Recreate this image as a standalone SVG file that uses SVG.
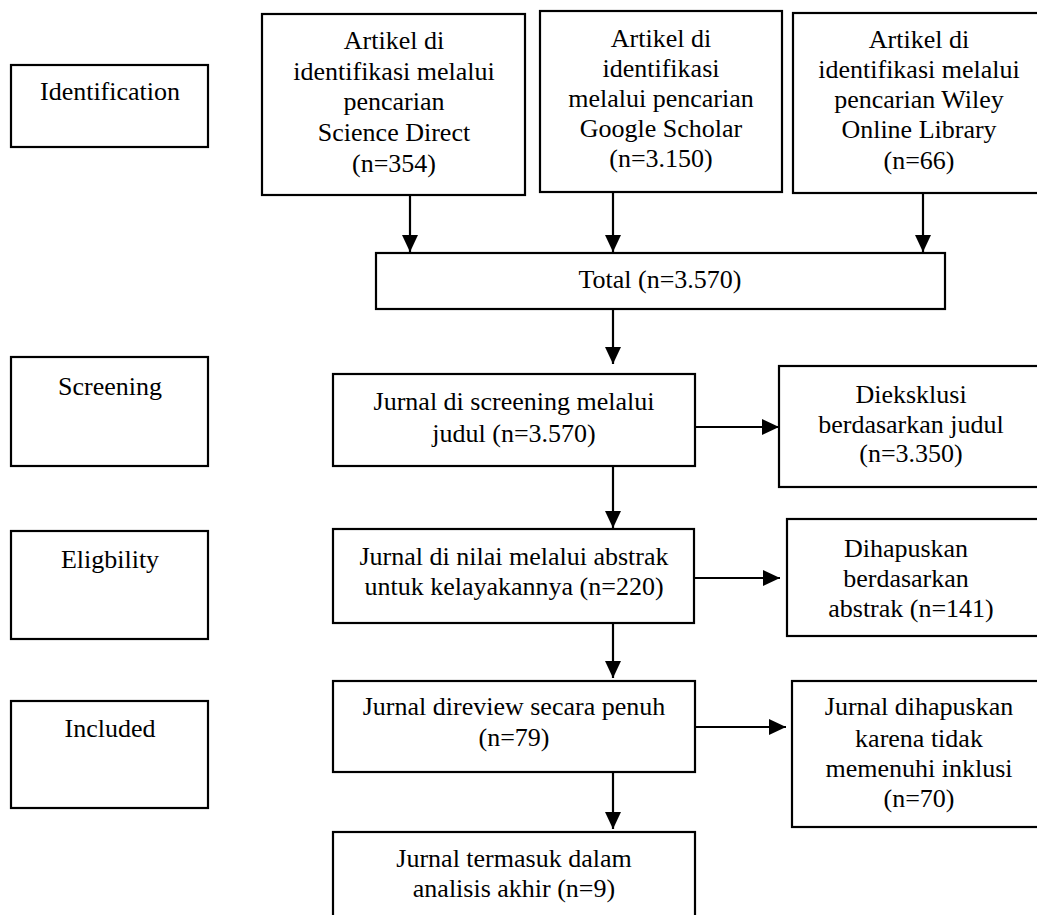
<svg xmlns="http://www.w3.org/2000/svg" width="1037" height="915" viewBox="0 0 1037 915">
<style>
.box{fill:#fff;stroke:#000;stroke-width:2.2}
.t{font-family:'Liberation Serif','Times New Roman','DejaVu Serif',serif;font-size:26px;fill:#000;text-anchor:middle}
.c{stroke:#000;stroke-width:2.2;fill:none;marker-end:url(#ah)}
</style>
<defs>
<marker id="ah" markerUnits="userSpaceOnUse" markerWidth="17" markerHeight="16" refX="17" refY="8" orient="auto">
<path d="M0,0 L17,8 L0,16 Z" fill="#000"/>
</marker>
</defs>
<rect width="1037" height="915" fill="#fff"/>

<g id="label-identification">
<rect class="box" x="11" y="65" width="197" height="82"/>
<text class="t" x="110" y="100" font-family="Liberation Serif, serif">Identification</text>
</g>
<g id="label-screening">
<rect class="box" x="11" y="357" width="197" height="109"/>
<text class="t" x="110" y="395" font-family="Liberation Serif, serif">Screening</text>
</g>
<g id="label-eligibility">
<rect class="box" x="11" y="531" width="197" height="108"/>
<text class="t" x="110" y="568" font-family="Liberation Serif, serif">Eligbility</text>
</g>
<g id="label-included">
<rect class="box" x="11" y="701" width="197" height="107"/>
<text class="t" x="110" y="737" font-family="Liberation Serif, serif">Included</text>
</g>

<g id="src-sciencedirect" font-family="Liberation Serif, serif">
<rect class="box" x="262" y="14" width="263" height="181"/>
<text class="t" x="394" y="49">Artikel di</text>
<text class="t" x="394" y="80">identifikasi melalui</text>
<text class="t" x="394" y="110">pencarian</text>
<text class="t" x="394" y="141">Science Direct</text>
<text class="t" x="394" y="172">(n=354)</text>
</g>
<g id="src-googlescholar">
<rect class="box" x="540" y="11" width="242" height="181"/>
<text class="t" x="661" y="47">Artikel di</text>
<text class="t" x="661" y="77">identifikasi</text>
<text class="t" x="661" y="107">melalui pencarian</text>
<text class="t" x="661" y="137">Google Scholar</text>
<text class="t" x="661" y="167">(n=3.150)</text>
</g>
<g id="src-wiley">
<rect class="box" x="793" y="13" width="252" height="180"/>
<text class="t" x="919" y="48">Artikel di</text>
<text class="t" x="919" y="78">identifikasi melalui</text>
<text class="t" x="919" y="108">pencarian Wiley</text>
<text class="t" x="919" y="138">Online Library</text>
<text class="t" x="919" y="169">(n=66)</text>
</g>

<g id="total">
<rect class="box" x="376" y="253" width="569" height="56"/>
<text class="t" x="660" y="288">Total (n=3.570)</text>
</g>

<g id="screening">
<rect class="box" x="333" y="374" width="362" height="92"/>
<text class="t" x="514" y="410">Jurnal di screening melalui</text>
<text class="t" x="514" y="442">judul (n=3.570)</text>
</g>
<g id="excluded-title">
<rect class="box" x="779" y="366" width="266" height="121"/>
<text class="t" x="911" y="403">Dieksklusi</text>
<text class="t" x="911" y="433">berdasarkan judul</text>
<text class="t" x="911" y="462">(n=3.350)</text>
</g>

<g id="eligibility">
<rect class="box" x="333" y="529" width="361" height="94"/>
<text class="t" x="514" y="565">Jurnal di nilai melalui abstrak</text>
<text class="t" x="514" y="595">untuk kelayakannya (n=220)</text>
</g>
<g id="excluded-abstract">
<rect class="box" x="787" y="519" width="258" height="117"/>
<text class="t" x="906" y="557">Dihapuskan</text>
<text class="t" x="906" y="587">berdasarkan</text>
<text class="t" x="911" y="617">abstrak (n=141)</text>
</g>

<g id="fullreview">
<rect class="box" x="333" y="681" width="362" height="91"/>
<text class="t" x="514" y="715">Jurnal direview secara penuh</text>
<text class="t" x="514" y="746">(n=79)</text>
</g>
<g id="excluded-inclusion">
<rect class="box" x="792" y="681" width="254" height="146"/>
<text class="t" x="919" y="715">Jurnal dihapuskan</text>
<text class="t" x="919" y="747">karena tidak</text>
<text class="t" x="919" y="777">memenuhi inklusi</text>
<text class="t" x="919" y="807">(n=70)</text>
</g>

<g id="final">
<rect class="box" x="333" y="832" width="362" height="100"/>
<text class="t" x="514" y="867">Jurnal termasuk dalam</text>
<text class="t" x="514" y="897">analisis akhir (n=9)</text>
</g>

<g id="connectors">
<line class="c" x1="410" y1="195" x2="410" y2="252"/>
<line class="c" x1="613" y1="192" x2="613" y2="252"/>
<line class="c" x1="923" y1="193" x2="923" y2="252"/>
<line class="c" x1="613" y1="309" x2="613" y2="364"/>
<line class="c" x1="613" y1="466" x2="613" y2="528"/>
<line class="c" x1="613" y1="623" x2="613" y2="678"/>
<line class="c" x1="613" y1="772" x2="613" y2="829"/>
<line class="c" x1="695" y1="427" x2="779" y2="427"/>
<line class="c" x1="694" y1="578" x2="780" y2="578"/>
<line class="c" x1="695" y1="727" x2="786" y2="727"/>
</g>
</svg>
